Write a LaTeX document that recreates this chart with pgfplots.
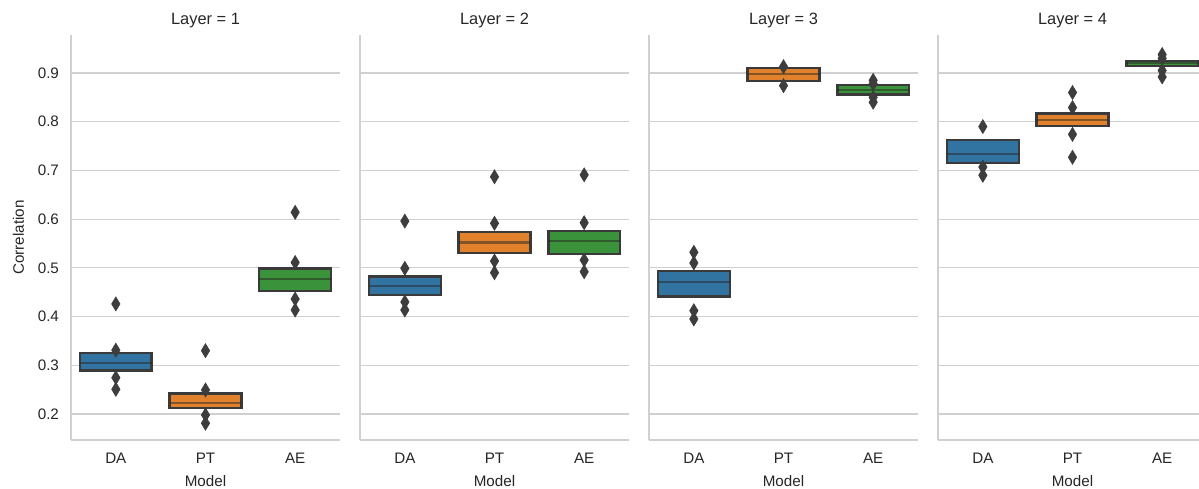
\documentclass[border=0pt]{standalone}
\usepackage{fontspec}
\setmainfont{Liberation Sans}
\usepackage{pgfplots}
\pgfplotsset{compat=1.18}
\definecolor{cblue}{HTML}{3274A1}
\definecolor{corange}{HTML}{E1812C}
\definecolor{cgreen}{HTML}{3A923A}
\definecolor{cedge}{HTML}{3A3A3A}
\definecolor{cout}{HTML}{3D3D3D}
\definecolor{cgrid}{HTML}{D0D0D0}
\definecolor{ctext}{HTML}{262626}
\definecolor{cmed}{HTML}{262626}
\pgfplotsset{
  facet/.style={
    scale only axis, width=134.5pt, height=202.5pt,
    anchor=south west,
    xmin=-0.5, xmax=2.5, ymin=0.1466, ymax=0.978,
    xtick={0,1,2}, xticklabels={DA,PT,AE},
    ytick={0.2,0.3,0.4,0.5,0.6,0.7,0.8,0.9},
    ymajorgrids, grid style={cgrid, line width=0.6pt},
    axis x line*=bottom, axis y line*=left,
    axis line style={cgrid, line width=0.85pt, -},
    major tick length=0pt,
    tick label style={font=\fontsize{7.6}{9}\selectfont, text=ctext},
    xticklabel style={yshift=-3pt},
    yticklabel style={xshift=-2.5pt},
    xlabel={Model},
    label style={font=\fontsize{7.6}{9}\selectfont, text=ctext},
    xlabel style={yshift=1pt},
    title style={font=\fontsize{8.2}{10}\selectfont, text=ctext, yshift=-6pt},
  },
}
% left, right, lower quartile, median, upper quartile, colour
\newcommand{\lvbox}[6]{%
  \addplot[draw=cedge, fill=#6, line width=1.2pt] coordinates {(#1,#3) (#2,#3) (#2,#5) (#1,#5)} -- cycle;
  \addplot[draw=cmed, draw opacity=0.5, line width=1.1pt] coordinates {(#1,#4) (#2,#4)};}
\newcommand{\outl}[1]{%
  \addplot[only marks, mark=diamond*, mark size=3.5pt, color=cout, mark options={line width=0.3pt, xscale=0.8}] coordinates {#1};}
\begin{document}
\begin{tikzpicture}
% Layer 1
\begin{axis}[facet, at={(35.5pt,24pt)}, title={Layer = 1}, ylabel={Correlation},
  yticklabels={0.2,0.3,0.4,0.5,0.6,0.7,0.8,0.9}]
\outl{(0,0.426) (0,0.331) (0,0.2745) (0,0.2507)}
\outl{(1,0.330) (1,0.2493) (1,0.198) (1,0.181)}
\outl{(2,0.614) (2,0.511) (2,0.436) (2,0.4135)}
\lvbox{-0.4}{0.4}{0.289}{0.304}{0.3246}{cblue}
\lvbox{0.6}{1.4}{0.2117}{0.222}{0.2417}{corange}
\lvbox{1.6}{2.4}{0.453}{0.477}{0.499}{cgreen}
\end{axis}
% Layer 2
\begin{axis}[facet, at={(180pt,24pt)}, title={Layer = 2}, yticklabels={}]
\outl{(0,0.596) (0,0.499) (0,0.430) (0,0.4135)}
\outl{(1,0.687) (1,0.5915) (1,0.514) (1,0.490)}
\outl{(2,0.691) (2,0.5927) (2,0.516) (2,0.492)}
\lvbox{-0.4}{0.4}{0.444}{0.463}{0.482}{cblue}
\lvbox{0.6}{1.4}{0.530}{0.552}{0.574}{corange}
\lvbox{1.6}{2.4}{0.5285}{0.555}{0.5757}{cgreen}
\end{axis}
% Layer 3
\begin{axis}[facet, at={(324.5pt,24pt)}, title={Layer = 3}, yticklabels={}]
\outl{(0,0.532) (0,0.510) (0,0.412) (0,0.395)}
\outl{(1,0.913) (1,0.874)}
\outl{(2,0.885) (2,0.878) (2,0.850) (2,0.840)}
\lvbox{-0.4}{0.4}{0.4408}{0.4716}{0.4936}{cblue}
\lvbox{0.6}{1.4}{0.884}{0.898}{0.9097}{corange}
\lvbox{1.6}{2.4}{0.856}{0.865}{0.8754}{cgreen}
\end{axis}
% Layer 4
\begin{axis}[facet, at={(469pt,24pt)}, title={Layer = 4}, yticklabels={}]
\outl{(0,0.790) (0,0.707) (0,0.690)}
\outl{(1,0.860) (1,0.829) (1,0.774) (1,0.727)}
\outl{(2,0.938) (2,0.930) (2,0.905) (2,0.892)}
\lvbox{-0.4}{0.4}{0.7147}{0.733}{0.7625}{cblue}
\lvbox{0.6}{1.4}{0.791}{0.8036}{0.817}{corange}
\lvbox{1.6}{2.4}{0.9145}{0.920}{0.925}{cgreen}
\end{axis}
\pgfresetboundingbox
\useasboundingbox (0,0) rectangle (599.5pt,244pt);
\end{tikzpicture}
\end{document}
